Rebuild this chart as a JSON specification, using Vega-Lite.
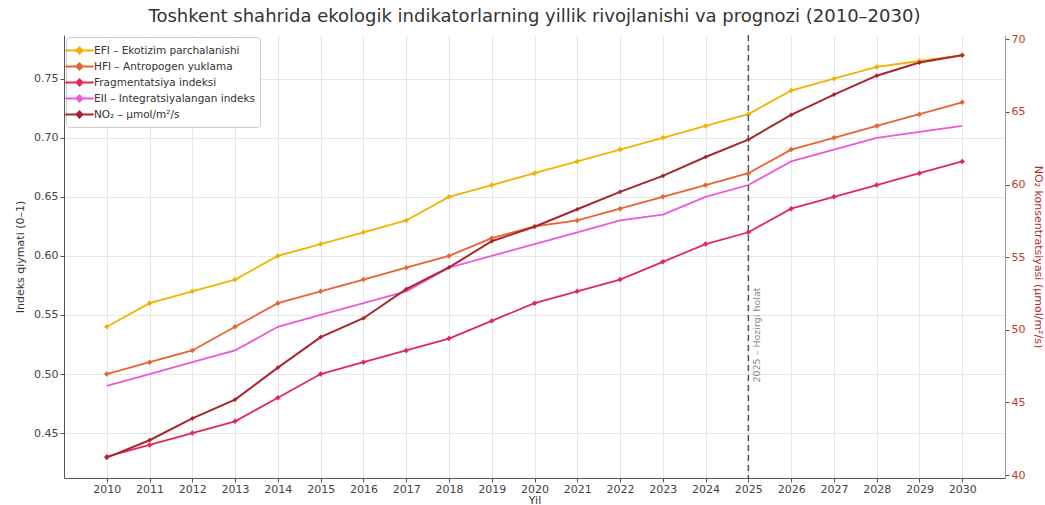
{
  "$schema": "https://vega.github.io/schema/vega-lite/v6.json",
  "width": 941,
  "height": 443,
  "autosize": {"type": "none"},
  "padding": {"left": 64, "top": 35, "right": 40, "bottom": 27},
  "background": "white",
  "config": {
    "font": "DejaVu Sans",
    "view": {"stroke": null},
    "axis": {
      "labelFontSize": 11,
      "labelColor": "#444",
      "titleFontSize": 11,
      "titleFontWeight": "normal",
      "titleColor": "#333",
      "domainColor": "#555",
      "tickColor": "#555",
      "tickSize": 4,
      "gridColor": "#e6e6e6"
    }
  },
  "title": {
    "text": "Toshkent shahrida ekologik indikatorlarning yillik rivojlanishi va prognozi (2010–2030)",
    "fontSize": 18,
    "fontWeight": "normal",
    "color": "#333",
    "offset": 7,
    "anchor": "middle"
  },
  "datasets": {
    "idx": [
      {"year": 2010, "series": "EFI – Ekotizim parchalanishi", "value": 0.54},
      {"year": 2011, "series": "EFI – Ekotizim parchalanishi", "value": 0.56},
      {"year": 2012, "series": "EFI – Ekotizim parchalanishi", "value": 0.57},
      {"year": 2013, "series": "EFI – Ekotizim parchalanishi", "value": 0.58},
      {"year": 2014, "series": "EFI – Ekotizim parchalanishi", "value": 0.60},
      {"year": 2015, "series": "EFI – Ekotizim parchalanishi", "value": 0.61},
      {"year": 2016, "series": "EFI – Ekotizim parchalanishi", "value": 0.62},
      {"year": 2017, "series": "EFI – Ekotizim parchalanishi", "value": 0.63},
      {"year": 2018, "series": "EFI – Ekotizim parchalanishi", "value": 0.65},
      {"year": 2019, "series": "EFI – Ekotizim parchalanishi", "value": 0.66},
      {"year": 2020, "series": "EFI – Ekotizim parchalanishi", "value": 0.67},
      {"year": 2021, "series": "EFI – Ekotizim parchalanishi", "value": 0.68},
      {"year": 2022, "series": "EFI – Ekotizim parchalanishi", "value": 0.69},
      {"year": 2023, "series": "EFI – Ekotizim parchalanishi", "value": 0.70},
      {"year": 2024, "series": "EFI – Ekotizim parchalanishi", "value": 0.71},
      {"year": 2025, "series": "EFI – Ekotizim parchalanishi", "value": 0.72},
      {"year": 2026, "series": "EFI – Ekotizim parchalanishi", "value": 0.74},
      {"year": 2027, "series": "EFI – Ekotizim parchalanishi", "value": 0.75},
      {"year": 2028, "series": "EFI – Ekotizim parchalanishi", "value": 0.76},
      {"year": 2029, "series": "EFI – Ekotizim parchalanishi", "value": 0.765},
      {"year": 2030, "series": "EFI – Ekotizim parchalanishi", "value": 0.77},
      {"year": 2010, "series": "HFI – Antropogen yuklama", "value": 0.50},
      {"year": 2011, "series": "HFI – Antropogen yuklama", "value": 0.51},
      {"year": 2012, "series": "HFI – Antropogen yuklama", "value": 0.52},
      {"year": 2013, "series": "HFI – Antropogen yuklama", "value": 0.54},
      {"year": 2014, "series": "HFI – Antropogen yuklama", "value": 0.56},
      {"year": 2015, "series": "HFI – Antropogen yuklama", "value": 0.57},
      {"year": 2016, "series": "HFI – Antropogen yuklama", "value": 0.58},
      {"year": 2017, "series": "HFI – Antropogen yuklama", "value": 0.59},
      {"year": 2018, "series": "HFI – Antropogen yuklama", "value": 0.60},
      {"year": 2019, "series": "HFI – Antropogen yuklama", "value": 0.615},
      {"year": 2020, "series": "HFI – Antropogen yuklama", "value": 0.625},
      {"year": 2021, "series": "HFI – Antropogen yuklama", "value": 0.63},
      {"year": 2022, "series": "HFI – Antropogen yuklama", "value": 0.64},
      {"year": 2023, "series": "HFI – Antropogen yuklama", "value": 0.65},
      {"year": 2024, "series": "HFI – Antropogen yuklama", "value": 0.66},
      {"year": 2025, "series": "HFI – Antropogen yuklama", "value": 0.67},
      {"year": 2026, "series": "HFI – Antropogen yuklama", "value": 0.69},
      {"year": 2027, "series": "HFI – Antropogen yuklama", "value": 0.70},
      {"year": 2028, "series": "HFI – Antropogen yuklama", "value": 0.71},
      {"year": 2029, "series": "HFI – Antropogen yuklama", "value": 0.72},
      {"year": 2030, "series": "HFI – Antropogen yuklama", "value": 0.73},
      {"year": 2010, "series": "Fragmentatsiya indeksi", "value": 0.43},
      {"year": 2011, "series": "Fragmentatsiya indeksi", "value": 0.44},
      {"year": 2012, "series": "Fragmentatsiya indeksi", "value": 0.45},
      {"year": 2013, "series": "Fragmentatsiya indeksi", "value": 0.46},
      {"year": 2014, "series": "Fragmentatsiya indeksi", "value": 0.48},
      {"year": 2015, "series": "Fragmentatsiya indeksi", "value": 0.50},
      {"year": 2016, "series": "Fragmentatsiya indeksi", "value": 0.51},
      {"year": 2017, "series": "Fragmentatsiya indeksi", "value": 0.52},
      {"year": 2018, "series": "Fragmentatsiya indeksi", "value": 0.53},
      {"year": 2019, "series": "Fragmentatsiya indeksi", "value": 0.545},
      {"year": 2020, "series": "Fragmentatsiya indeksi", "value": 0.56},
      {"year": 2021, "series": "Fragmentatsiya indeksi", "value": 0.57},
      {"year": 2022, "series": "Fragmentatsiya indeksi", "value": 0.58},
      {"year": 2023, "series": "Fragmentatsiya indeksi", "value": 0.595},
      {"year": 2024, "series": "Fragmentatsiya indeksi", "value": 0.61},
      {"year": 2025, "series": "Fragmentatsiya indeksi", "value": 0.62},
      {"year": 2026, "series": "Fragmentatsiya indeksi", "value": 0.64},
      {"year": 2027, "series": "Fragmentatsiya indeksi", "value": 0.65},
      {"year": 2028, "series": "Fragmentatsiya indeksi", "value": 0.66},
      {"year": 2029, "series": "Fragmentatsiya indeksi", "value": 0.67},
      {"year": 2030, "series": "Fragmentatsiya indeksi", "value": 0.68},
      {"year": 2010, "series": "EII – Integratsiyalangan indeks", "value": 0.49},
      {"year": 2011, "series": "EII – Integratsiyalangan indeks", "value": 0.50},
      {"year": 2012, "series": "EII – Integratsiyalangan indeks", "value": 0.51},
      {"year": 2013, "series": "EII – Integratsiyalangan indeks", "value": 0.52},
      {"year": 2014, "series": "EII – Integratsiyalangan indeks", "value": 0.54},
      {"year": 2015, "series": "EII – Integratsiyalangan indeks", "value": 0.55},
      {"year": 2016, "series": "EII – Integratsiyalangan indeks", "value": 0.56},
      {"year": 2017, "series": "EII – Integratsiyalangan indeks", "value": 0.57},
      {"year": 2018, "series": "EII – Integratsiyalangan indeks", "value": 0.59},
      {"year": 2019, "series": "EII – Integratsiyalangan indeks", "value": 0.60},
      {"year": 2020, "series": "EII – Integratsiyalangan indeks", "value": 0.61},
      {"year": 2021, "series": "EII – Integratsiyalangan indeks", "value": 0.62},
      {"year": 2022, "series": "EII – Integratsiyalangan indeks", "value": 0.63},
      {"year": 2023, "series": "EII – Integratsiyalangan indeks", "value": 0.635},
      {"year": 2024, "series": "EII – Integratsiyalangan indeks", "value": 0.65},
      {"year": 2025, "series": "EII – Integratsiyalangan indeks", "value": 0.66},
      {"year": 2026, "series": "EII – Integratsiyalangan indeks", "value": 0.68},
      {"year": 2027, "series": "EII – Integratsiyalangan indeks", "value": 0.69},
      {"year": 2028, "series": "EII – Integratsiyalangan indeks", "value": 0.70},
      {"year": 2029, "series": "EII – Integratsiyalangan indeks", "value": 0.705},
      {"year": 2030, "series": "EII – Integratsiyalangan indeks", "value": 0.71}
    ],
    "no2": [
      {"year": 2010, "series": "NO₂ – µmol/m²/s", "no2": 41.2},
      {"year": 2011, "series": "NO₂ – µmol/m²/s", "no2": 42.4},
      {"year": 2012, "series": "NO₂ – µmol/m²/s", "no2": 43.9},
      {"year": 2013, "series": "NO₂ – µmol/m²/s", "no2": 45.2},
      {"year": 2014, "series": "NO₂ – µmol/m²/s", "no2": 47.4},
      {"year": 2015, "series": "NO₂ – µmol/m²/s", "no2": 49.5},
      {"year": 2016, "series": "NO₂ – µmol/m²/s", "no2": 50.8},
      {"year": 2017, "series": "NO₂ – µmol/m²/s", "no2": 52.8},
      {"year": 2018, "series": "NO₂ – µmol/m²/s", "no2": 54.3},
      {"year": 2019, "series": "NO₂ – µmol/m²/s", "no2": 56.1},
      {"year": 2020, "series": "NO₂ – µmol/m²/s", "no2": 57.1},
      {"year": 2021, "series": "NO₂ – µmol/m²/s", "no2": 58.3},
      {"year": 2022, "series": "NO₂ – µmol/m²/s", "no2": 59.5},
      {"year": 2023, "series": "NO₂ – µmol/m²/s", "no2": 60.6},
      {"year": 2024, "series": "NO₂ – µmol/m²/s", "no2": 61.9},
      {"year": 2025, "series": "NO₂ – µmol/m²/s", "no2": 63.1},
      {"year": 2026, "series": "NO₂ – µmol/m²/s", "no2": 64.8},
      {"year": 2027, "series": "NO₂ – µmol/m²/s", "no2": 66.2},
      {"year": 2028, "series": "NO₂ – µmol/m²/s", "no2": 67.5},
      {"year": 2029, "series": "NO₂ – µmol/m²/s", "no2": 68.4},
      {"year": 2030, "series": "NO₂ – µmol/m²/s", "no2": 68.9}
    ],
    "marker": [
      {"year": 2025, "v": 0.533, "t": "2025 – Hozirgi holat"}
    ]
  },
  "layer": [
    {
      "layer": [
        {
          "data": {"name": "idx"},
          "mark": {"type": "line", "strokeWidth": 1.8},
          "encoding": {
            "x": {"field": "year", "type": "quantitative", "scale": {"domain": [2009, 2031], "nice": false, "zero": false},
              "axis": {"title": "Yil", "values": [2010,2011,2012,2013,2014,2015,2016,2017,2018,2019,2020,2021,2022,2023,2024,2025,2026,2027,2028,2029,2030], "format": "d", "grid": true, "titlePadding": 0, "labelPadding": 1, "labelFlush": false}},
            "y": {"field": "value", "type": "quantitative", "scale": {"domain": [0.412, 0.787], "nice": false, "zero": false},
              "axis": {"title": "Indeks qiymati (0–1)", "values": [0.45, 0.5, 0.55, 0.6, 0.65, 0.7, 0.75], "format": ".2f", "grid": true, "titlePadding": 8}},
            "color": {"field": "series", "type": "nominal",
              "scale": {"domain": ["EFI – Ekotizim parchalanishi", "HFI – Antropogen yuklama", "Fragmentatsiya indeksi", "EII – Integratsiyalangan indeks", "NO₂ – µmol/m²/s"],
                        "range": ["#f2b300", "#ea6330", "#e2295a", "#ec58d6", "#a8262d"]},
              "legend": {"orient": "top-left", "offset": 2, "title": null, "fillColor": "white", "strokeColor": "#cccccc", "padding": 5, "cornerRadius": 3, "labelFontSize": 10.5, "labelColor": "#333", "labelLimit": 300, "labelOffset": 6, "symbolSize": 225, "rowPadding": -1, "symbolType": "M-1.9,0H1.9M-0.4,0L0,-0.4L0.4,0L0,0.4Z", "symbolStrokeWidth": 2}}
          }
        },
        {
          "data": {"name": "idx"},
          "transform": [{"filter": "datum.series !== 'EII – Integratsiyalangan indeks'"}],
          "mark": {"type": "point", "shape": "diamond", "filled": true, "size": 30, "opacity": 1},
          "encoding": {
            "x": {"field": "year", "type": "quantitative"},
            "y": {"field": "value", "type": "quantitative"},
            "color": {"field": "series", "type": "nominal"}
          }
        },
        {
          "data": {"name": "marker"},
          "mark": {"type": "rule", "strokeDash": [6, 4], "color": "#555", "strokeWidth": 1.5},
          "encoding": {"x": {"field": "year", "type": "quantitative"}}
        },
        {
          "data": {"name": "marker"},
          "mark": {"type": "text", "angle": 270, "dy": 9, "align": "center", "baseline": "middle", "fontSize": 9.5, "color": "#888"},
          "encoding": {
            "x": {"field": "year", "type": "quantitative"},
            "y": {"field": "v", "type": "quantitative"},
            "text": {"field": "t"}
          }
        }
      ]
    },
    {
      "layer": [
        {
          "data": {"name": "no2"},
          "mark": {"type": "line", "strokeWidth": 2},
          "encoding": {
            "x": {"field": "year", "type": "quantitative"},
            "y": {"field": "no2", "type": "quantitative", "scale": {"domain": [39.8, 70.3], "nice": false, "zero": false},
              "axis": {"orient": "right", "title": "NO₂ konsentratsiyasi (µmol/m²/s)", "values": [40, 45, 50, 55, 60, 65, 70], "grid": false, "labelColor": "#c0392b", "titleColor": "#b03030", "domainColor": "#999", "titlePadding": 8}},
            "color": {"field": "series", "type": "nominal"}
          }
        },
        {
          "data": {"name": "no2"},
          "mark": {"type": "point", "shape": "diamond", "filled": true, "size": 22, "opacity": 1},
          "encoding": {
            "x": {"field": "year", "type": "quantitative"},
            "y": {"field": "no2", "type": "quantitative"},
            "color": {"field": "series", "type": "nominal"}
          }
        }
      ]
    }
  ],
  "resolve": {"scale": {"y": "independent"}}
}
